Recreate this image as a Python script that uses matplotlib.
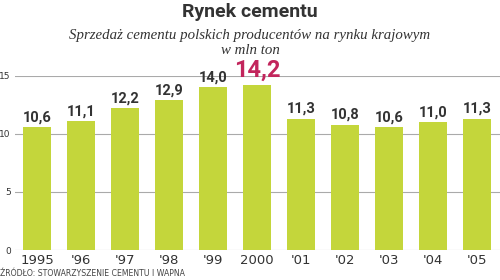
import numpy as np
import matplotlib.pyplot as plt

years = ['1995', "'96", "'97", "'98", "'99", '2000', "'01", "'02", "'03", "'04", "'05"]
sales = [10.6, 11.1, 12.2, 12.9, 14.0, 14.2, 11.3, 10.8, 10.6, 11.0, 11.3]
labels = ['10,6', '11,1', '12,2', '12,9', '14,0', '14,2', '11,3', '10,8', '10,6', '11,0', '11,3']
highlight = 5

bar_color = '#c4d63b'
text_color = '#333333'
red = '#c2255c'

fig = plt.figure(figsize=(5, 2.8), dpi=100)
ax = fig.add_axes([0.03, 0.107, 0.97, 0.622])

x = np.arange(len(years))
ax.bar(x, sales, width=0.64, color=bar_color, zorder=2)

for i, (v, lab) in enumerate(zip(sales, labels)):
    if i == highlight:
        ax.text(i, v + 0.3, lab, ha='center', va='bottom', fontsize=17,
                fontweight='bold', family='Roboto', color=red, clip_on=False)
    else:
        ax.text(i, v + 0.25, lab, ha='center', va='bottom', fontsize=10.5,
                fontweight='semibold', family='Roboto', color=text_color, clip_on=False)

ax.set_xlim(-0.5, 10.52)
ax.set_ylim(0, 15)
ax.set_yticks([0, 5, 10, 15])
ax.yaxis.grid(True, color='#aaaaaa', linewidth=0.8, zorder=0)
ax.set_xticks(x)
ax.set_xticklabels(years)
ax.tick_params(axis='x', length=0, labelsize=9.5, labelcolor=text_color, pad=3)
ax.tick_params(axis='y', length=0, labelsize=6.5, labelcolor=text_color, pad=3)
for s in ax.spines.values():
    s.set_visible(False)

fig.text(0.5, 0.957, 'Rynek cementu', ha='center', va='center',
         fontsize=14, fontweight='bold', family='Roboto', color=text_color)
fig.text(0.5, 0.875, 'Sprzedaż cementu polskich producentów na rynku krajowym',
         ha='center', va='center', fontsize=10.7, style='italic',
         family='Liberation Serif', color=text_color)
fig.text(0.5, 0.82, 'w mln ton', ha='center', va='center', fontsize=10.7,
         style='italic', family='Liberation Serif', color=text_color)
fig.text(0.0, 0.025, 'ŹRÓDŁO: STOWARZYSZENIE CEMENTU I WAPNA', ha='left',
         va='center', fontsize=5.6, family='DejaVu Sans Condensed', color='#444444')

fig.savefig('out.png', dpi=100)
